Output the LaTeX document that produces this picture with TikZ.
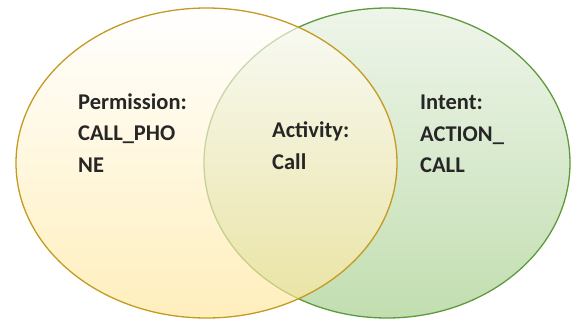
\documentclass[tikz,border=0pt]{standalone}
\usepackage{fontspec}
\setmainfont{Carlito}
\usetikzlibrary{positioning}

\definecolor{goldline}{HTML}{C49A22}
\definecolor{goldfill}{HTML}{FFE699}
\definecolor{greenline}{HTML}{5E9A3C}
\definecolor{greenfill}{HTML}{C2DEB0}
\definecolor{greentop}{HTML}{EEF5EA}

\tikzset{
  setlabel/.style={align=left, anchor=base west, inner sep=0pt,
    font=\fontsize{22.5}{31.5}\selectfont\bfseries, text=black!85},
}

\begin{document}
\begin{tikzpicture}[x=1pt, y=-1pt]
  \useasboundingbox (0, 0) rectangle (571, 322);%
  % intent set (right), drawn first
  \shade [top color=greentop, bottom color=greenfill]
    (387, 163) ellipse [x radius=183, y radius=155];%
  \draw [greenline, line width=1.3pt]
    (387, 163) ellipse [x radius=183, y radius=155];%
  % permission set (left), laid over it
  \shade [top color=white, bottom color=goldfill, opacity=0.65]
    (206.5, 163) ellipse [x radius=190.5, y radius=155];%
  \draw [goldline, line width=1.3pt]
    (206.5, 163) ellipse [x radius=190.5, y radius=155];%
  % labels (anchored on the last baseline)
  \node [setlabel] (perm) at (78, 172) {Permission:\\CALL\_PHO\\NE};%
  \node [setlabel] (activity) at (272, 169) {Activity:\\Call};%
  \node [setlabel] (intent) at (420, 172.5) {Intent:\\ACTION\_\\CALL};%
\end{tikzpicture}
\end{document}
